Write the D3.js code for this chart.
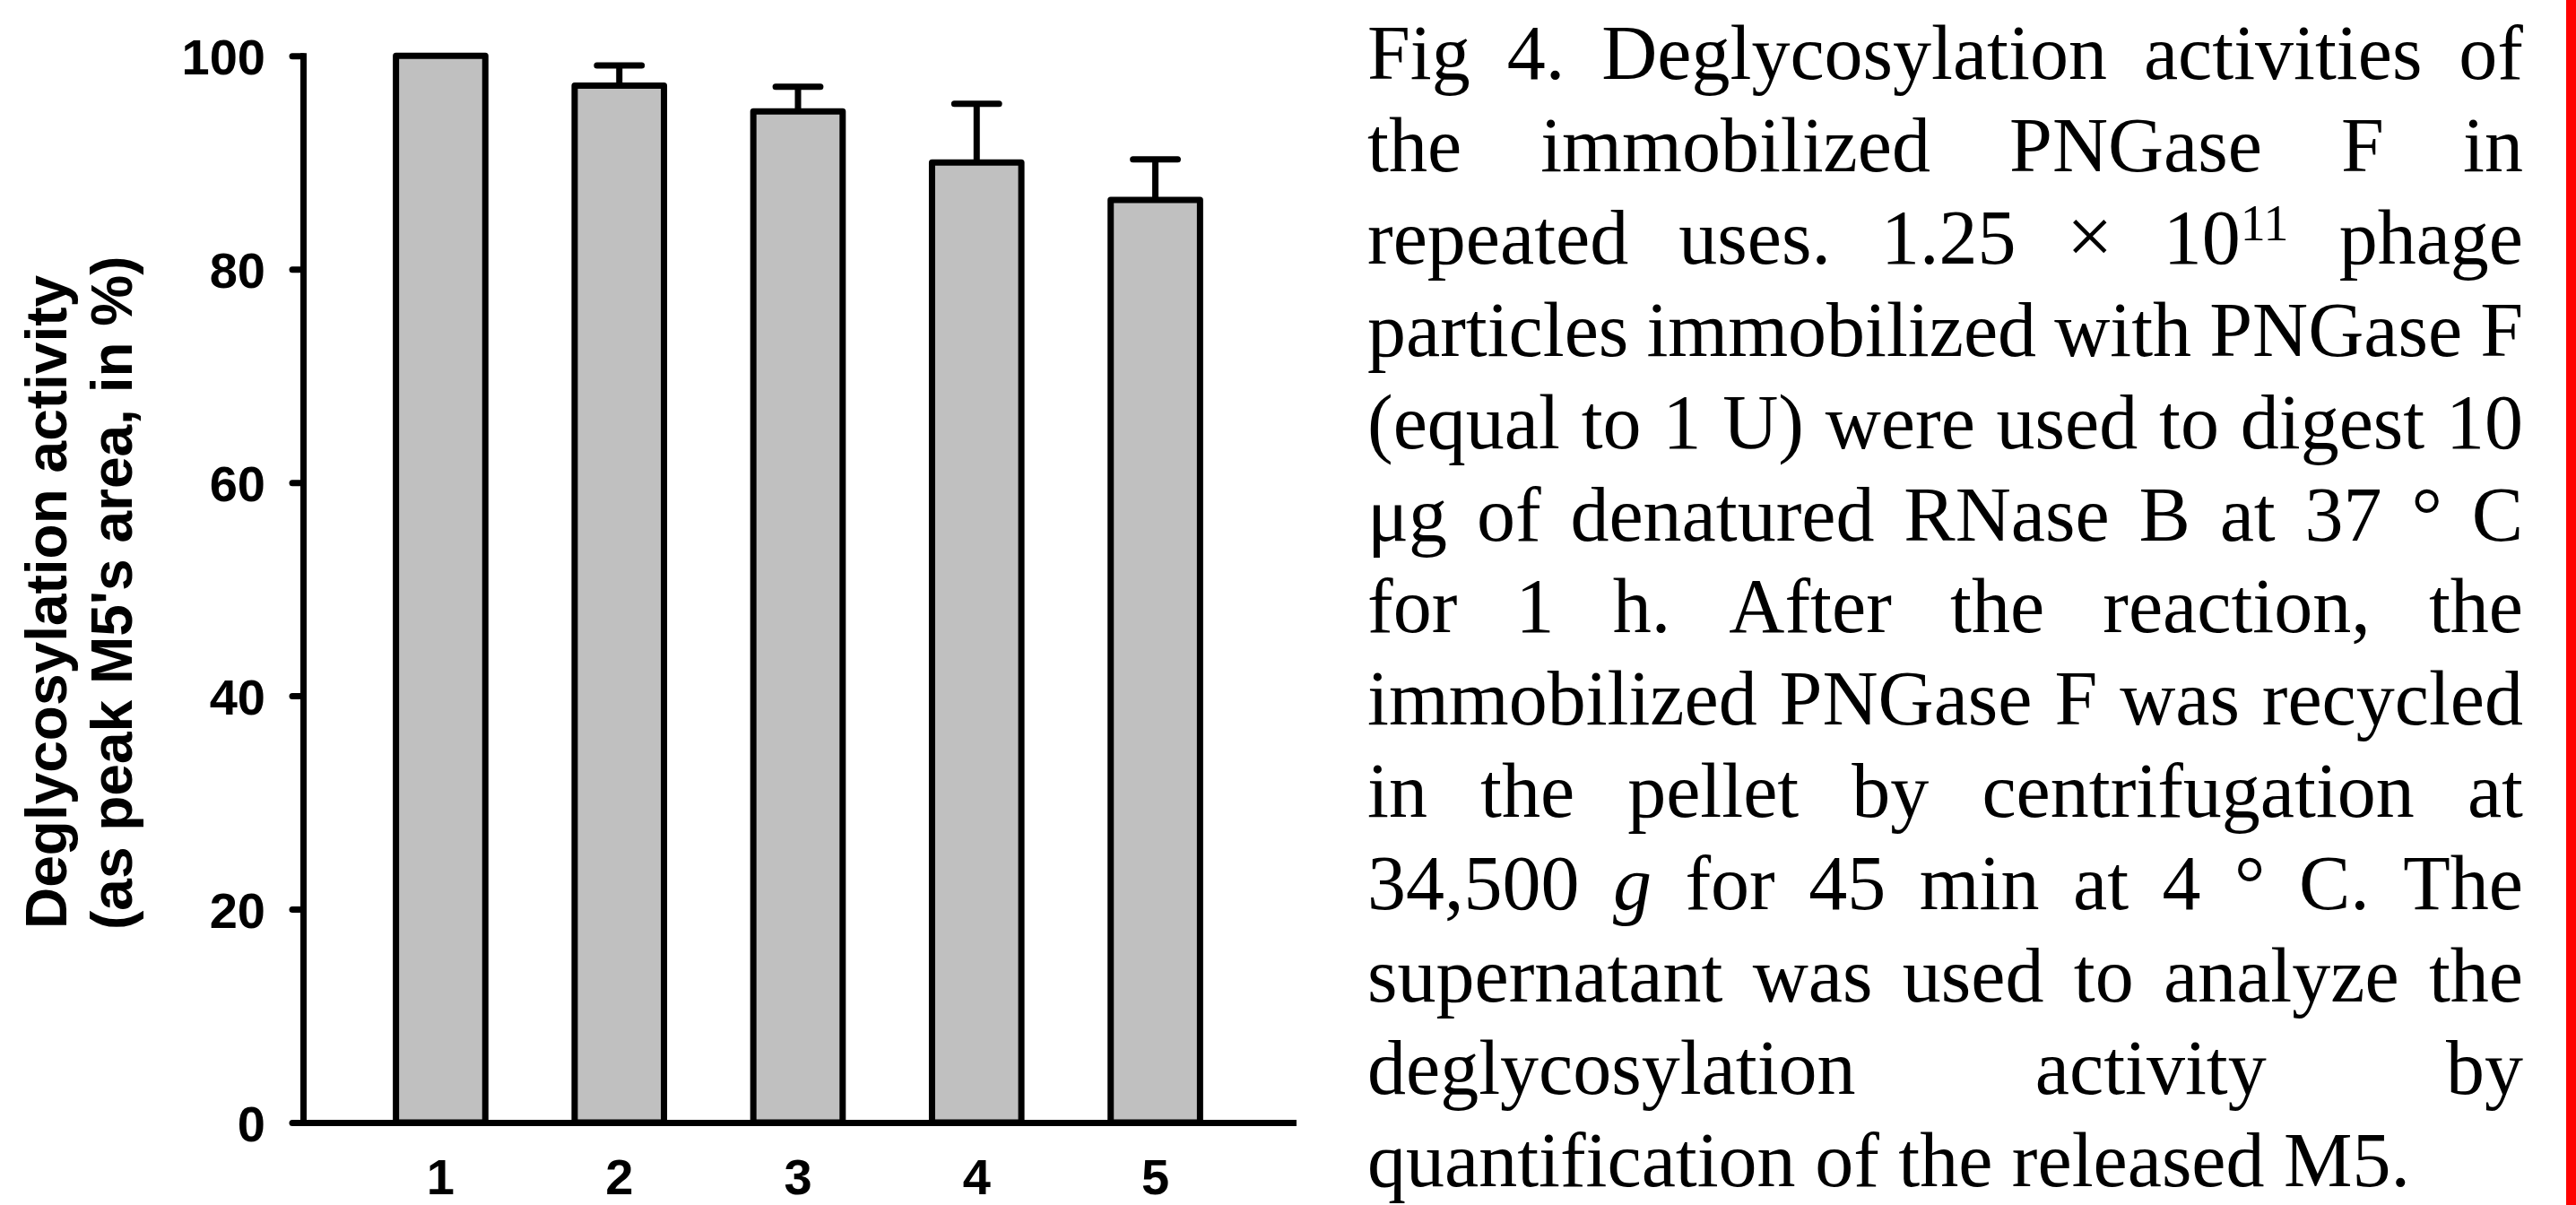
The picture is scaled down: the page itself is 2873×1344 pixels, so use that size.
<!DOCTYPE html>
<html>
<head>
<meta charset="utf-8">
<script src="https://cdn.jsdelivr.net/npm/d3@7"></script>
<style>
  html, body { margin: 0; padding: 0; background: #ffffff; }
  svg { display: block; }
</style>
</head>
<body>
<svg id="chart" width="2873" height="1344"></svg>
<script>
// ---------------- data ----------------
const categories = ["1", "2", "3", "4", "5"];
const activity = [100, 97.2, 94.8, 90.0, 86.5];
const errors = [0, 1.9, 2.3, 5.5, 3.8];
const yTicks = [0, 20, 40, 60, 80, 100];
const yTitleLines = ["Deglycosylation activity", "(as peak M5's area, in %)"];
const captionLines = [
  "Fig 4. Deglycosylation activities of",
  "the immobilized PNGase F in",
  "repeated uses. 1.25 \u00d7 10^11 phage",
  "particles immobilized with PNGase F",
  "(equal to 1 U) were used to digest 10",
  "\u03bcg of denatured RNase B at 37 \u00b0 C",
  "for 1 h. After the reaction, the",
  "immobilized PNGase F was recycled",
  "in the pellet by centrifugation at",
  "34,500 *g* for 45 min at 4 \u00b0 C. The",
  "supernatant was used to analyze the",
  "deglycosylation activity by",
  "quantification of the released M5."
];

// ---------------- layout ----------------
const svg = d3.select("#chart");
svg.append("rect").attr("width", 2873).attr("height", 1344).attr("fill", "#ffffff");

const axisX = 338;
const x0 = 338, x1 = 1442;
const yBottom = 1252, yTop = 62.3;
const sansBold = "'Liberation Sans', Arial, Helvetica, sans-serif";

const x = d3.scaleBand().domain(categories).range([x0, x1]).paddingInner(0.5).paddingOuter(0.52);
const y = d3.scaleLinear().domain([0, 100]).range([yBottom, yTop]);

const data = categories.map((c, i) => ({ c, v: activity[i], e: errors[i] }));

// bars
svg.append("g").selectAll("rect").data(data).join("rect")
  .attr("x", d => x(d.c))
  .attr("width", x.bandwidth())
  .attr("y", d => y(d.v))
  .attr("height", d => y(0) - y(d.v))
  .attr("fill", "#c0c0c0")
  .attr("stroke", "#000")
  .attr("stroke-width", 7)
  .attr("stroke-linejoin", "round");

// error bars
const eg = svg.append("g").attr("stroke", "#000").attr("stroke-width", 7).attr("stroke-linecap", "round");
data.filter(d => d.e > 0).forEach(d => {
  const cx = x(d.c) + x.bandwidth() / 2;
  const capW = x.bandwidth() / 2;
  eg.append("line").attr("x1", cx).attr("x2", cx).attr("y1", y(d.v)).attr("y2", y(d.v + d.e)).attr("stroke-linecap", "butt");
  eg.append("line").attr("x1", cx - capW / 2).attr("x2", cx + capW / 2).attr("y1", y(d.v + d.e)).attr("y2", y(d.v + d.e));
});

// y axis
const yAxis = svg.append("g").attr("transform", `translate(${axisX},0)`)
  .call(d3.axisLeft(y).tickValues(yTicks).tickSize(12).tickSizeOuter(0).tickPadding(30));
yAxis.select(".domain").attr("stroke-width", 7).attr("stroke", "#000").attr("stroke-linecap", "square");
yAxis.selectAll(".tick line").attr("stroke-width", 7).attr("stroke", "#000").attr("stroke-linecap", "round");
yAxis.selectAll(".tick text").attr("font-family", sansBold).attr("font-weight", "bold")
  .attr("font-size", 56).attr("fill", "#000").attr("dy", "0.36em");

// x axis
const xAxis = svg.append("g").attr("transform", `translate(0,${yBottom})`)
  .call(d3.axisBottom(x).tickSize(0).tickSizeOuter(0).tickPadding(40));
xAxis.select(".domain").attr("stroke-width", 7).attr("stroke", "#000").attr("stroke-linecap", "square");
xAxis.selectAll(".tick text").attr("font-family", sansBold).attr("font-weight", "bold")
  .attr("font-size", 56).attr("fill", "#000");

// y axis title (rotated, two lines)
const titlePos = [{ bx: 74, sy: 1036 }, { bx: 147, sy: 1037 }];
yTitleLines.forEach((t, i) => {
  svg.append("text")
    .attr("transform", `translate(${titlePos[i].bx},${titlePos[i].sy}) rotate(-90)`)
    .attr("font-family", sansBold).attr("font-weight", "bold").attr("font-size", 64)
    .attr("text-anchor", "start")
    .text(t);
});

// ---------------- caption (justified) ----------------
const capLeft = 1525, capRight = 2814, capFirstBase = 88, capLH = 102.9, capSize = 86;
const serif = "'Liberation Serif', 'Times New Roman', Times, serif";
const capG = svg.append("g").attr("font-family", serif).attr("font-size", capSize).attr("fill", "#000");

captionLines.forEach((line, li) => {
  const words = line.split(" ");
  const baseY = capFirstBase + li * capLH;
  const nodes = words.map(w => {
    const t = capG.append("text").attr("y", baseY);
    if (w.includes("^")) {
      const [a, b] = w.split("^");
      t.append("tspan").text(a);
      t.append("tspan").attr("font-size", 56).attr("dy", -26).text(b);
    } else if (w.startsWith("*") && w.endsWith("*")) {
      t.append("tspan").attr("font-style", "italic").text(w.slice(1, -1));
    } else if (w === "\u00d7") {
      t.attr("font-size", 92).text(w);
    } else {
      t.text(w);
    }
    return t;
  });
  const widths = nodes.map(n => n.node().getComputedTextLength());
  const total = d3.sum(widths);
  const last = li === captionLines.length - 1;
  const gap = (last || words.length < 2) ? capSize * 0.25 : (capRight - capLeft - total) / (words.length - 1);
  let cx = capLeft;
  nodes.forEach((n, i) => { n.attr("x", cx); cx += widths[i] + gap; });
});

// red right border
svg.append("rect").attr("x", 2862).attr("y", 0).attr("width", 11).attr("height", 1344).attr("fill", "#ff0000");
</script>
</body>
</html>
